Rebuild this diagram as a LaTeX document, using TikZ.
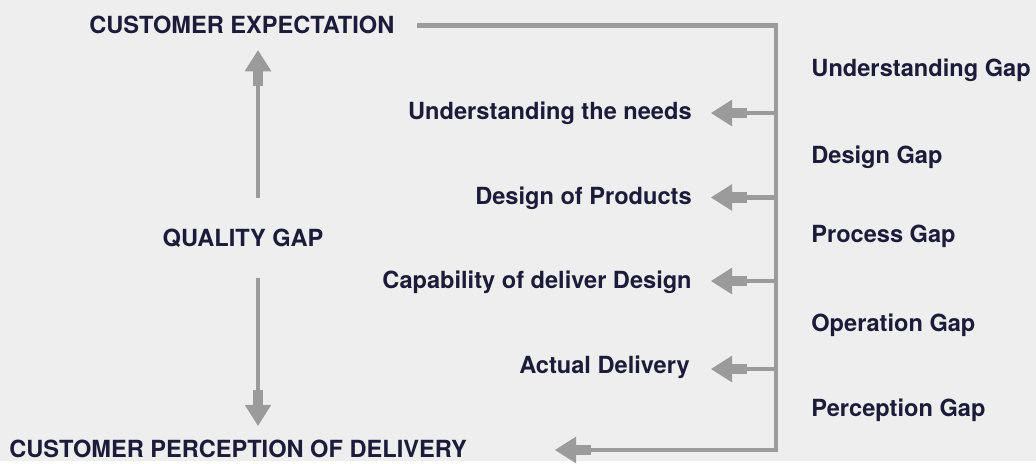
\documentclass[tikz,border=0pt]{standalone}
\usepackage{fontspec}
\setmainfont{TeX Gyre Heros}
\usetikzlibrary{arrows.meta}
\definecolor{bgpaper}{HTML}{EDEEED}
\definecolor{inkblue}{HTML}{1C1C3A}
\definecolor{pipegray}{HTML}{9B9B9B}
\begin{document}
\begin{tikzpicture}[x=1pt,y=-1pt,line width=4.7pt,
  lbl/.style={inner sep=0pt,text=inkblue,font=\fontsize{23.6}{27}\selectfont\bfseries,
    text height=16.8pt,text depth=0pt},
  pipe/.style={draw=pipegray,line join=miter},
  fatarrow/.style={pipe,-{Rectangle[length=15pt,width=10.7pt,line width=0pt]
    Triangle[length=21pt,width=26.7pt,line width=0pt]}}]
 \fill[bgpaper] (0,0) rectangle (1036,461);
 \node[lbl,anchor=west] (expect) at (87,25) {CUSTOMER EXPECTATION};
 \node[lbl,anchor=west] (percept) at (7,449) {CUSTOMER PERCEPTION OF DELIVERY};
 \node[lbl] (quality) at (243,238) {QUALITY GAP};
 \node[lbl,anchor=east] (need1) at (694,111) {Understanding the needs};
 \node[lbl,anchor=east] (need2) at (694,196) {Design of Products};
 \node[lbl,anchor=east] (need3) at (694,280) {Capability of deliver Design};
 \node[lbl,anchor=east] (need4) at (692,365) {Actual Delivery};
 \node[lbl,anchor=west] (gap1) at (809,68) {Understanding Gap};
 \node[lbl,anchor=west] (gap2) at (809,155) {Design Gap};
 \node[lbl,anchor=west] (gap3) at (809,234) {Process Gap};
 \node[lbl,anchor=west] (gap4) at (809,323) {Operation Gap};
 \node[lbl,anchor=west] (gap5) at (809,408.5) {Perception Gap};
 \coordinate (top) at (417,25.5);
 \coordinate (bot) at (776,450);
 \coordinate (j1) at (776,113);
 \coordinate (j2) at (776,197.5);
 \coordinate (j3) at (776,281);
 \coordinate (j4) at (776,369);
 \coordinate (qup) at (258,198);
 \coordinate (qdn) at (258,278);
 \draw[fatarrow] (top) -| (bot) -- ([xshift=-221pt]bot);
 \draw[fatarrow] (j1) -- ([xshift=-65pt]j1);
 \draw[fatarrow] (j2) -- ([xshift=-65pt]j2);
 \draw[fatarrow] (j3) -- ([xshift=-65pt]j3);
 \draw[fatarrow] (j4) -- ([xshift=-65pt]j4);
 \draw[fatarrow,shorten >=14.5pt] (qup) -- (qup |- expect.south);
 \draw[fatarrow,shorten >=12.5pt] (qdn) -- (qdn |- percept.north);
\end{tikzpicture}
\end{document}
